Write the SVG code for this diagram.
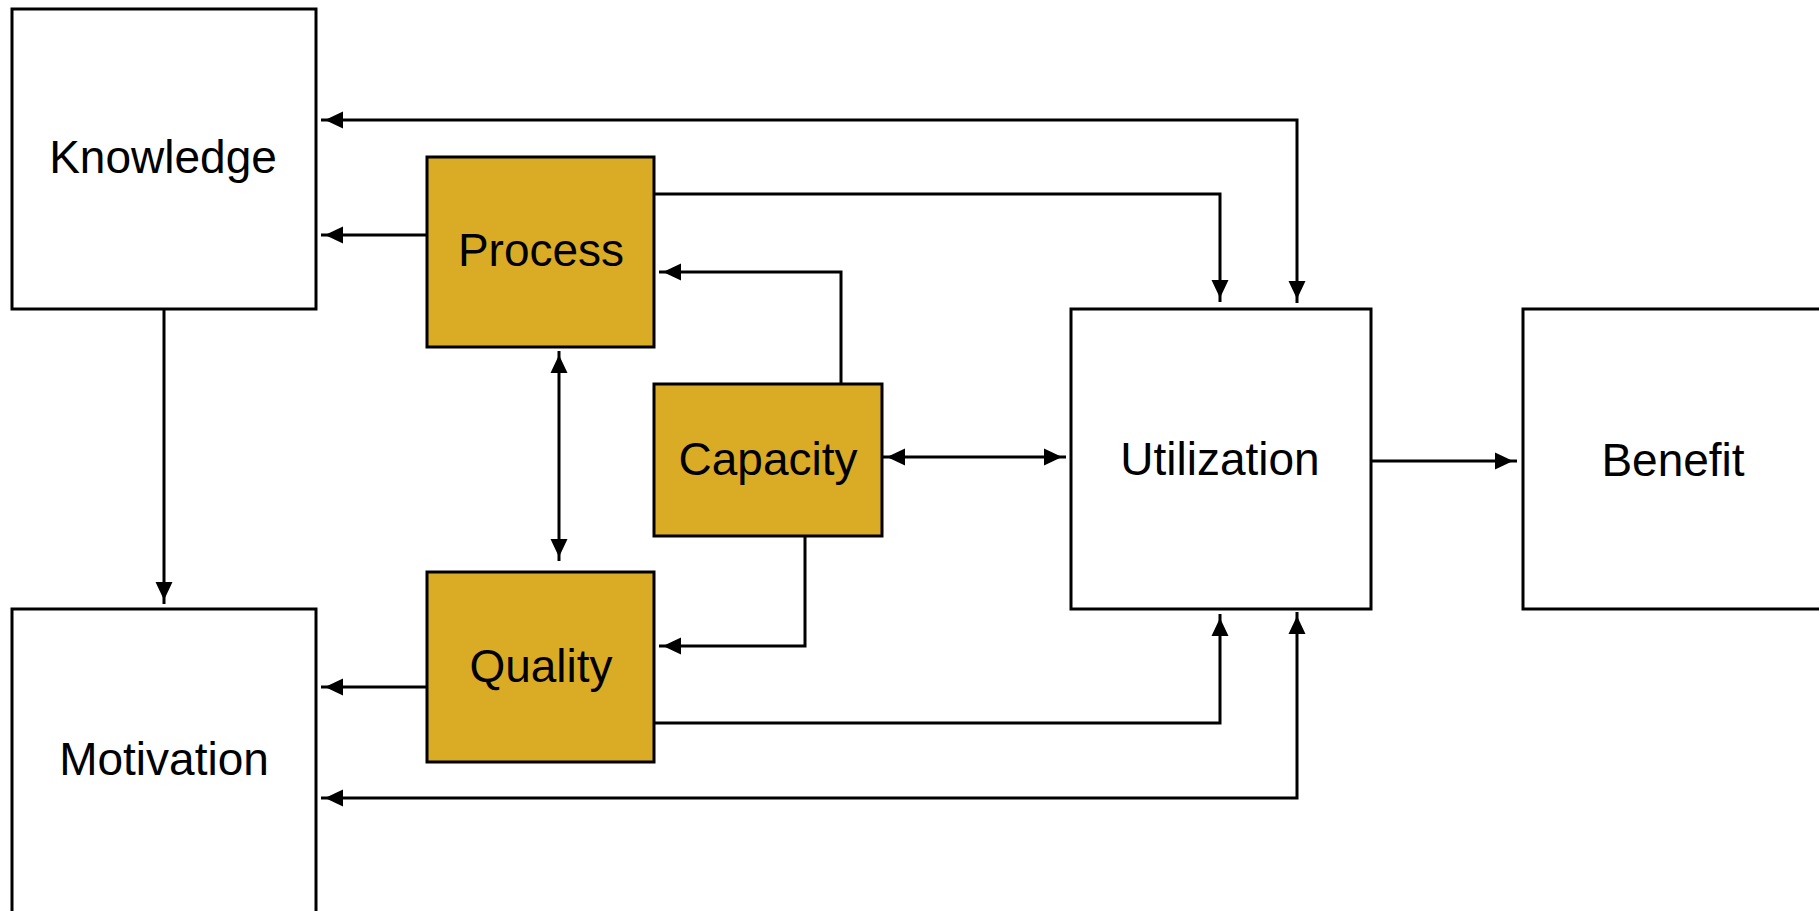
<svg xmlns="http://www.w3.org/2000/svg" width="1819" height="911" viewBox="0 0 1819 911">
<style>
.box{fill:#ffffff;stroke:#000;stroke-width:3}
.gold{fill:#DAAC25;stroke:#000;stroke-width:3}
.lbl{font-family:"Liberation Sans",Arial,sans-serif;font-size:46px;fill:#000;text-anchor:middle}
.conn{fill:none;stroke:#000;stroke-width:3}
.a{marker-end:url(#ah)}
.b{marker-start:url(#ah);marker-end:url(#ah)}
</style>
<defs>
<marker id="ah" markerUnits="userSpaceOnUse" viewBox="-24 -10 26 20" markerWidth="26" markerHeight="20" refX="0" refY="0" orient="auto-start-reverse">
<path d="M-4,0 L-22,-8.5 L-22,8.5 Z" fill="#000"/>
</marker>
</defs>
<rect width="1819" height="911" fill="#fff"/>
<g id="connectors">
<path class="conn b" d="M1297,303 L1297,120 L321,120"/>
<path class="conn a" d="M427,235 L321,235"/>
<path class="conn a" d="M654,194 L1220,194 L1220,302"/>
<path class="conn a" d="M841,384 L841,272 L659,272"/>
<path class="conn b" d="M883,457 L1066,457"/>
<path class="conn a" d="M1371,461 L1517,461"/>
<path class="conn a" d="M164,309 L164,604"/>
<path class="conn b" d="M559,351 L559,561"/>
<path class="conn a" d="M805,536 L805,646 L659,646"/>
<path class="conn a" d="M427,687 L321,687"/>
<path class="conn a" d="M654,723 L1220,723 L1220,614"/>
<path class="conn b" d="M1297,612 L1297,798 L321,798"/>
</g>
<g id="knowledge"><rect class="box" x="12" y="9" width="304" height="300"/><text class="lbl" x="163" y="173">Knowledge</text></g>
<g id="motivation"><rect class="box" x="12" y="609" width="304" height="320"/><text class="lbl" x="164" y="775">Motivation</text></g>
<g id="process"><rect class="gold" x="427" y="157" width="227" height="190"/><text class="lbl" x="541" y="266">Process</text></g>
<g id="quality"><rect class="gold" x="427" y="572" width="227" height="190"/><text class="lbl" x="541" y="682">Quality</text></g>
<g id="capacity"><rect class="gold" x="654" y="384" width="228" height="152"/><text class="lbl" x="768" y="475">Capacity</text></g>
<g id="utilization"><rect class="box" x="1071" y="309" width="300" height="300"/><text class="lbl" x="1220" y="475">Utilization</text></g>
<g id="benefit"><rect class="box" x="1523" y="309" width="320" height="300"/><text class="lbl" x="1673" y="476">Benefit</text></g>
</svg>
